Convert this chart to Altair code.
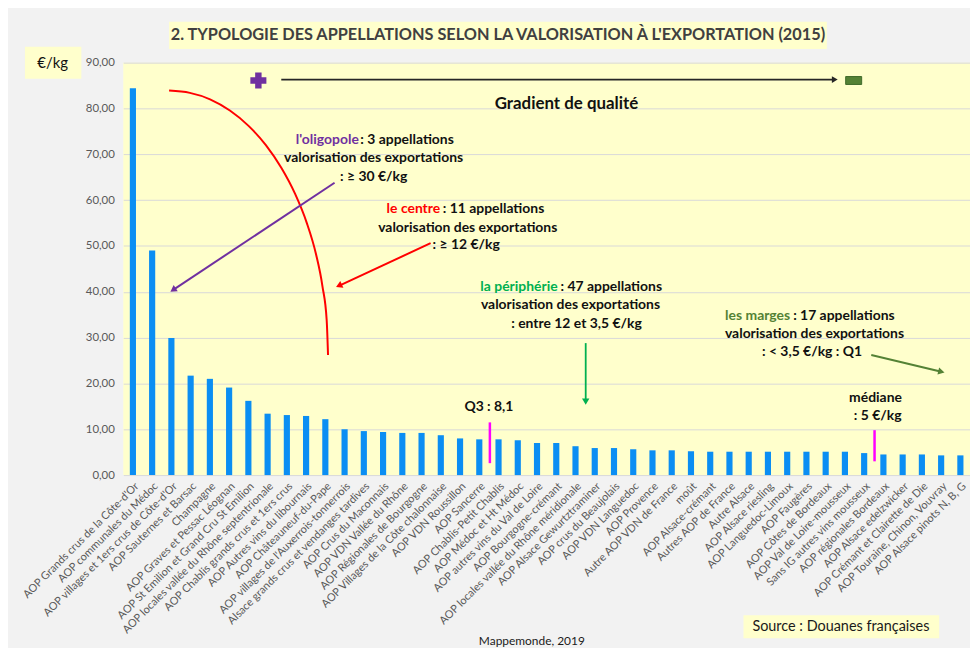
import math
import altair as alt
import pandas as pd

# ---------------- data ----------------
categories = [
    "AOP Grands crus de la Côte-d'Or",
    "AOP communales du Médoc",
    "AOP villages et 1ers crus de Côte-d'Or",
    "AOP Sauternes et Barsac",
    "Champagne",
    "AOP Graves et Pessac Léognan",
    "AOP St Emilion et Grand Cru St Emilion",
    "AOP locales vallée du Rhône septentrionale",
    "AOP Chablis grands crus et 1ers crus",
    "AOP Autres vins du libournais",
    "AOP Châteauneuf-du-Pape",
    "AOP villages de l'Auxerrois-tonnerrois",
    "Alsace grands crus et vendanges tardives",
    "AOP Crus du Maconnais",
    "AOP VDN Vallée du Rhône",
    "AOP Régionales de Bourgogne",
    "AOP Villages de la Côte chalonnaise",
    "AOP VDN Roussillon",
    "AOP Sancerre",
    "AOP Chablis-Petit Chablis",
    "AOP Médoc et Ht Médoc",
    "AOP autres vins du Val de Loire",
    "AOP Bourgogne-crémant",
    "AOP locales vallée du Rhône méridionale",
    "AOP Alsace Gewurtztraminer",
    "AOP crus du Beaujolais",
    "AOP VDN Languedoc",
    "AOP Provence",
    "Autre AOP VDN de France",
    "moût",
    "AOP Alsace-crémant",
    "Autres AOP de France",
    "Autre Alsace",
    "AOP Alsace riesling",
    "AOP Languedoc-Limoux",
    "AOP Faugères",
    "AOP Côtes de Bordeaux",
    "AOP Val de Loire-mousseux",
    "Sans IG autres vins mousseux",
    "AOP régionales Bordeaux",
    "AOP Alsace edelzwicker",
    "AOP Crémant et Clairette de Die",
    "AOP Touraine, Chinon, Vouvray",
    "AOP Alsace pinots N, B, G",
]
values = [84.4, 49.0, 29.9, 21.7, 21.0, 19.1, 16.2, 13.4, 13.1, 12.9, 12.2,
          10.0, 9.6, 9.4, 9.2, 9.2, 8.7, 8.0, 7.8, 7.8, 7.6, 7.0, 7.0, 6.3,
          5.9, 5.9, 5.65, 5.4, 5.4, 5.2, 5.1, 5.1, 5.1, 5.1, 5.1, 5.1, 5.1,
          5.1, 4.8, 4.5, 4.5, 4.5, 4.3, 4.3]
y_ticks = [0, 10, 20, 30, 40, 50, 60, 70, 80, 90]

# quartile markers (position in category units, bottom/top in €/kg)
quart_u = [19.05, 39.04]
quart_v0 = [2.6, 3.0]
quart_v1 = [11.5, 9.8]

# red arc separating the groups (category units, €/kg)
arc_u = [2.38, 3.46, 4.51, 5.54, 6.51, 7.41, 8.22, 8.93, 9.53, 10.01, 10.35, 10.57, 10.64]
arc_v = [83.9, 83.4, 82.0, 79.55, 76.2, 72.0, 67.0, 61.35, 55.1, 48.3, 41.2, 33.8, 26.2]

# ---------------- layout ----------------
PLOT_W, PLOT_H = 852, 415
N = len(categories)
YMAX = 90
PX_U = PLOT_W / N
PX_V = PLOT_H / YMAX
FONT = "Lato"
YELLOW = "#FFFFCC"


def xq(field="u"):
    return alt.X(f"{field}:Q", scale=alt.Scale(domain=[0, N], nice=False, zero=False), axis=None)


def yq(field="v"):
    return alt.Y(f"{field}:Q", scale=alt.Scale(domain=[0, YMAX], nice=False, zero=False), axis=None)


bars = alt.Chart(pd.DataFrame({"cat": categories, "val": values})).mark_bar(color="#0B8EF3").encode(
    x=alt.X("cat:N", sort=None,
            scale=alt.Scale(paddingInner=0.68, paddingOuter=0.34),
            axis=alt.Axis(title=None, labelAngle=-45, labelFont=FONT, labelFontSize=11,
                          labelColor="#595959", labelLimit=400, ticks=False, domain=False,
                          labelPadding=5)),
    y=alt.Y("val:Q", scale=alt.Scale(domain=[0, YMAX], nice=False, zero=False),
            axis=alt.Axis(title=None, values=y_ticks,
                          labelExpr="replace(format(datum.value, '.2f'), '.', ',')",
                          grid=True, gridColor="#D9D9D9", domain=False, ticks=False,
                          labelPadding=9, labelColor="#595959", labelFontSize=11.5,
                          labelFont=FONT)),
)

quart = alt.Chart(pd.DataFrame({"u": quart_u, "v": quart_v0, "v2": quart_v1})).mark_rule(
    color="#FF00FF", strokeWidth=2.5).encode(x=xq(), y=yq(), y2="v2:Q")

arc = alt.Chart(pd.DataFrame({"u": arc_u, "v": arc_v, "i": list(range(len(arc_u)))})).mark_line(
    color="#FF0000", strokeWidth=2, interpolate="monotone").encode(x=xq(), y=yq(), order="i:Q")


def arrow(u0, v0, u1, v1, color, width, head=55):
    dx = (u1 - u0) * PX_U
    dy = -(v1 - v0) * PX_V
    L = math.hypot(dx, dy)
    back = 4.0
    hu = u1 - (dx / L) * back / PX_U
    hv = v1 + (dy / L) * back / PX_V
    ang = math.degrees(math.atan2(dx, -dy)) % 360
    shaft = alt.Chart(pd.DataFrame({"u": [u0, hu], "v": [v0, hv], "i": [0, 1]})).mark_line(
        color=color, strokeWidth=width).encode(x=xq(), y=yq(), order="i:Q")
    tip = alt.Chart(pd.DataFrame({"u": [hu], "v": [hv]})).mark_point(
        shape="triangle", filled=True, size=head, angle=ang, color=color, opacity=1).encode(x=xq(), y=yq())
    return [shaft, tip]


arrows = []
arrows += arrow(8.21, 86.3, 37.13, 86.3, "#262626", 1.6, head=45)
arrows += arrow(10.98, 63.8, 2.46, 40.05, "#7030A0", 2)
arrows += arrow(15.97, 50.6, 11.07, 41.05, "#FF0000", 2)
arrows += arrow(24.03, 28.8, 24.03, 15.4, "#00B050", 1.8)
arrows += arrow(38.87, 26.2, 42.66, 22.4, "#548235", 2)

plus = alt.Chart(pd.DataFrame({"u": [7.02], "v": [86.1]})).mark_point(
    shape="cross", filled=True, size=260, color="#7030A0", opacity=1).encode(x=xq(), y=yq())

minus = alt.Chart(pd.DataFrame({"u": [37.54], "u2": [38.37], "v": [86.97], "v2": [85.24]})).mark_rect(
    color="#548235", stroke="#3E6B2A", strokeWidth=1).encode(x=xq(), x2="u2:Q", y=yq(), y2="v2:Q")

# yellow boxes outside the plot (title, unit, source)
boxes = alt.Chart(pd.DataFrame({
    "u": [2.38, -5.11, 32.23], "u2": [36.56, -2.18, 42.40],
    "v": [98.9, 93.47, -30.6], "v2": [93.0, 86.47, -35.6]})).mark_rect(color=YELLOW).encode(
    x=xq(), x2="u2:Q", y=yq(), y2="v2:Q")


def texts(rows, align="center", size=14, bold=True):
    df = pd.DataFrame(rows, columns=["t", "u", "v", "col"])
    return alt.Chart(df).mark_text(align=align, baseline="middle", font=FONT, fontSize=size,
                                   fontWeight="bold" if bold else "normal").encode(
        x=xq(), y=yq(), text="t:N", color=alt.Color("col:N", scale=None))


BLK = "#111111"
title = texts([["2. TYPOLOGIE DES APPELLATIONS SELON LA VALORISATION À L'EXPORTATION (2015)", 19.47, 96.0, "#404040"]], size=16.4)
unit = texts([["€/kg", -3.67, 89.9, BLK]], size=15, bold=False)
source = texts([["Source : Douanes françaises", 37.29, -33.1, "#1a1a1a"]], size=14.5, bold=False)
credit = texts([["Mappemonde, 2019", 21.23, -36.3, "#1a1a1a"]], size=12, bold=False)
gradient = texts([["Gradient de qualité", 23.03, 80.9, BLK]], size=17)

centered = texts([
    ["valorisation des exportations", 13.01, 69.2, BLK],
    [": ≥ 30 €/kg", 13.01, 65.1, BLK],
    ["valorisation des exportations", 17.90, 54.0, BLK],
    [": ≥ 12 €/kg", 17.82, 50.1, BLK],
    ["valorisation des exportations", 23.24, 37.1, BLK],
    [": entre 12 et 3,5 €/kg", 23.55, 33.0, BLK],
    ["valorisation des exportations", 35.92, 30.8, BLK],
    [": < 3,5 €/kg : Q1", 35.79, 26.8, BLK],
    ["Q3 : 8,1", 19.0, 14.75, BLK],
    ["médiane", 39.09, 16.9, BLK],
    [": 5 €/kg", 39.2, 12.9, BLK],
])
heads_r = texts([
    ["l'oligopole", 12.24, 73.1, "#7030A0"],
    ["le centre", 16.47, 58.1, "#FF0000"],
    ["la périphérie", 22.57, 41.0, "#00B050"],
    ["les marges", 34.65, 34.8, "#548235"],
], align="right")
heads_l = texts([
    [": 3 appellations", 12.32, 73.1, BLK],
    [": 11 appellations", 16.6, 58.1, BLK],
    [": 47 appellations", 22.72, 41.0, BLK],
    [": 17 appellations", 34.81, 34.8, BLK],
], align="left")

layers = [bars, quart, arc] + arrows + [plus, minus, boxes, title, unit, source, credit,
                                        gradient, centered, heads_r, heads_l]

chart = alt.layer(*layers).resolve_scale(x="independent").resolve_axis(
    x="independent", y="independent").properties(
    width=PLOT_W, height=PLOT_H,
    autosize=alt.AutoSizeParams(type="none"),
    padding={"left": 116, "top": 53, "right": 0, "bottom": 172},
    background="#F2F2F2",
).configure_view(fill=YELLOW, stroke=None)

chart.save("out.html", embed_options={"renderer": "svg", "actions": False})
